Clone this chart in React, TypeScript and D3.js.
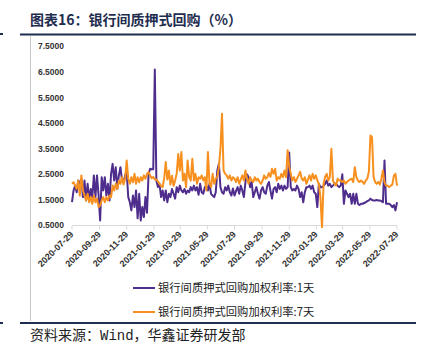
import React from "react";
import * as d3 from "d3";

const TITLE = "图表16：银行间质押式回购（%）";
const SOURCE_PREFIX = "资料来源：";
const SOURCE_WIND = "Wind";
const SOURCE_SUFFIX = "，华鑫证券研发部";
const SERIES_NAMES = ["银行间质押式回购加权利率:1天", "银行间质押式回购加权利率:7天"];
const START_DATE = "2020-07-29";
const END_DATE = "2022-07-29";
const X_TICK_LABELS = [
  "2020-07-29", "2020-09-29", "2020-11-29", "2021-01-29", "2021-03-29", "2021-05-29", "2021-07-29",
  "2021-09-29", "2021-11-29", "2022-01-29", "2022-03-29", "2022-05-29", "2022-07-29",
];
const Y_TICKS = [0.5, 1.5, 2.5, 3.5, 4.5, 5.5, 6.5, 7.5];

// 1天 rate, evenly sampled over the period
const RATE_1D = [
  1.41, 1.87, 2.06, 1.80, 2.26, 2.13, 2.33, 1.61, 2.26, 1.48,
  2.13, 1.48, 1.93, 1.61, 2.46, 1.61, 2.46, 1.70, 0.70, 2.39,
  1.87, 2.39, 1.67, 2.13, 1.48, 2.52, 2.91, 2.26, 2.78, 1.93,
  2.46, 2.78, 2.26, 2.19, 2.46, 2.60, 1.61, 1.41, 1.09, 1.67,
  1.22, 1.87, 0.78, 1.74, 0.70, 1.22, 0.83, 1.61, 1.00, 2.52,
  2.72, 2.70, 2.70, 6.60, 2.26, 2.00, 2.13, 1.61, 1.87, 1.48,
  1.87, 1.41, 1.74, 1.61, 1.93, 1.74, 1.55, 2.00, 1.80, 2.06,
  1.87, 1.80, 1.93, 1.74, 1.87, 1.80, 2.00, 1.87, 2.06, 1.87,
  2.00, 1.70, 2.13, 1.80, 1.74, 2.00, 2.06, 1.87, 2.13, 1.74,
  1.67, 1.61, 1.80, 2.65, 2.91, 2.00, 1.80, 1.74, 2.00, 1.87,
  2.06, 1.80, 1.67, 1.95, 1.67, 1.85, 2.00, 1.74, 2.06, 1.87,
  1.61, 2.20, 2.50, 2.39, 2.00, 2.20, 1.61, 1.80, 2.00, 1.74,
  1.55, 1.87, 2.00, 1.80, 1.74, 2.06, 2.20, 1.87, 1.55, 1.93,
  2.00, 1.80, 2.13, 1.93, 2.06, 1.87, 2.06, 1.93, 2.00, 3.35,
  2.00, 1.87, 1.93, 1.87, 2.06, 1.93, 1.61, 1.80, 1.41, 1.80,
  2.00, 2.00, 2.06, 1.93, 2.06, 1.80, 1.74, 1.22, 2.13, 2.00,
  2.00, 2.06, 2.13, 2.26, 2.06, 2.13, 2.00, 2.06, 2.13, 2.13,
  2.06, 2.00, 2.06, 2.50, 1.35, 1.87, 1.74, 1.61, 1.74, 1.35,
  1.74, 1.35, 1.74, 1.35, 1.30, 1.35, 1.35, 1.38, 1.41, 1.45,
  1.48, 1.55, 1.50, 1.48, 1.48, 1.50, 1.48, 1.48, 1.45, 1.41,
  3.04, 1.35, 1.35, 1.35, 1.30, 1.22, 1.30, 1.09, 1.41,
];

// 7天 rate
const RATE_7D = [
  2.13, 2.19, 2.06, 1.93, 2.26, 1.67, 2.46, 1.87, 1.67, 1.48,
  1.74, 1.41, 1.61, 1.35, 1.67, 1.41, 1.55, 1.22, 1.28, 1.48,
  1.61, 1.41, 1.61, 1.48, 1.67, 1.61, 2.06, 1.87, 2.13, 1.93,
  2.26, 2.13, 2.39, 2.10, 2.33, 3.04, 2.33, 2.13, 2.39, 2.19,
  2.52, 2.13, 2.39, 2.19, 2.39, 2.26, 2.46, 2.33, 2.52, 2.59,
  2.45, 2.35, 2.40, 2.30, 2.30, 2.22, 2.13, 2.05, 2.00, 2.35,
  2.98, 2.30, 2.65, 2.10, 2.45, 2.05, 2.26, 2.52, 3.30, 2.65,
  3.37, 2.26, 2.52, 2.00, 3.04, 2.39, 2.26, 3.11, 2.26, 2.52,
  2.13, 2.39, 2.33, 2.46, 2.26, 2.39, 1.87, 3.37, 2.13, 2.00,
  2.52, 2.13, 2.33, 2.40, 2.78, 3.50, 4.87, 2.65, 2.52, 2.46,
  2.33, 2.46, 2.26, 2.39, 2.33, 2.20, 2.39, 2.13, 2.30, 2.46,
  2.26, 2.65, 2.33, 2.13, 2.39, 2.26, 2.20, 2.39, 2.26, 2.33,
  2.20, 2.13, 2.26, 2.46, 2.33, 2.39, 2.55, 2.40, 2.72, 2.52,
  2.72, 2.26, 2.39, 2.33, 2.52, 2.39, 2.65, 2.39, 3.44, 2.80,
  2.52, 2.26, 2.39, 2.20, 2.33, 2.46, 2.60, 2.33, 2.26, 2.39,
  2.13, 2.30, 2.46, 2.26, 2.52, 2.33, 2.46, 2.26, 2.13, 1.60,
  0.43, 2.13, 2.40, 2.52, 2.26, 2.39, 3.50, 2.26, 2.13, 2.06,
  2.33, 2.26, 2.26, 2.20, 2.26, 2.13, 2.20, 2.26, 2.30, 2.33,
  2.20, 2.78, 2.39, 2.26, 2.20, 2.26, 2.20, 2.13, 2.26, 2.33,
  2.60, 4.02, 3.95, 2.40, 2.20, 2.13, 2.20, 2.10, 2.33, 2.65,
  2.20, 2.06, 2.06, 2.00, 2.06, 2.10, 2.45, 2.52, 2.06,
];

const W = 429;
const H = 356;
const PURPLE = "#4f2d8c";
const ORANGE = "#f7901e";
const NAVY = "#1f2d4f";

export default function App() {
  const parse = d3.timeParse("%Y-%m-%d");
  const start = parse(START_DATE) as Date;
  const end = parse(END_DATE) as Date;
  const n = RATE_1D.length;
  const span = end.getTime() - start.getTime();
  const dateAt = (i: number) => new Date(start.getTime() + (span * i) / (n - 1));

  const x = d3.scaleTime().domain([start, end]).range([72, 397]);
  const y = d3.scaleLinear().domain([0.5, 7.5]).range([225.5, 46.5]);

  const line = d3
    .line<number>()
    .x((_, i) => x(dateAt(i)))
    .y((d) => y(d));

  const fontAxis = "'Liberation Sans', Arial, sans-serif";
  const fontCJK = "'Noto Sans CJK SC', 'Noto Sans', sans-serif";

  return (
    <svg
      width={W}
      height={H}
      viewBox={`0 0 ${W} ${H}`}
      style={{ position: "absolute", left: 0, top: 0, background: "#fff" }}
    >
      <rect x={0} y={0} width={W} height={H} fill="#fff" />
      {/* small edge marks */}
      <rect x={0} y={33} width={3} height={2} fill={NAVY} />
      <rect x={0} y={322} width={3} height={2} fill={NAVY} />

      {/* title */}
      <text x={30} y={25} fontFamily={fontCJK} fontWeight="bold" fontSize={14} fill={NAVY}>
        {TITLE}
      </text>
      <line x1={20} x2={416} y1={34.5} y2={34.5} stroke={NAVY} strokeWidth={2.2} />

      {/* frame left border */}
      <line x1={30.5} x2={30.5} y1={36} y2={321} stroke="#c8c8c8" strokeWidth={1} />

      {/* y tick labels */}
      {Y_TICKS.map((t) => (
        <text
          key={t}
          x={64}
          y={y(t)}
          dy="0.35em"
          textAnchor="end"
          fontFamily={fontAxis}
          fontWeight="bold"
          fontSize={8.5}
          fill="#333"
        >
          {d3.format(".4f")(t)}
        </text>
      ))}

      {/* x axis */}
      <line x1={x(start)} x2={x(end)} y1={225.5} y2={225.5} stroke="#d9d9d9" strokeWidth={1} />
      {X_TICK_LABELS.map((lab) => {
        const px = x(parse(lab) as Date);
        return (
          <g key={lab}>
            <line x1={px} x2={px} y1={225.5} y2={229.5} stroke="#d9d9d9" strokeWidth={1} />
            <text
              transform={`translate(${px + 2},${235}) rotate(-45)`}
              textAnchor="end"
              fontFamily={fontAxis}
              fontWeight="bold"
              fontSize={9}
              fill="#333"
            >
              {lab}
            </text>
          </g>
        );
      })}

      {/* series */}
      <path d={line(RATE_1D) || ""} fill="none" stroke={PURPLE} strokeWidth={2} strokeLinejoin="round" />
      <path d={line(RATE_7D) || ""} fill="none" stroke={ORANGE} strokeWidth={2} strokeLinejoin="round" />

      {/* legend */}
      {SERIES_NAMES.map((name, k) => {
        const ly = 288 + k * 24;
        return (
          <g key={name}>
            <line x1={133} x2={155} y1={ly} y2={ly} stroke={k === 0 ? PURPLE : ORANGE} strokeWidth={2} />
            <text x={158} y={ly} dy="0.36em" fontFamily={fontCJK} fontSize={11.3} fill="#222">
              {name}
            </text>
          </g>
        );
      })}

      {/* bottom rule and source */}
      <line x1={20} x2={416} y1={323} y2={323} stroke={NAVY} strokeWidth={2.2} />
      <text x={30} y={340} fontFamily={fontCJK} fontSize={14} fill="#222">
        {SOURCE_PREFIX}
        <tspan fontFamily="'Liberation Mono', monospace">{SOURCE_WIND}</tspan>
        {SOURCE_SUFFIX}
      </text>
    </svg>
  );
}
